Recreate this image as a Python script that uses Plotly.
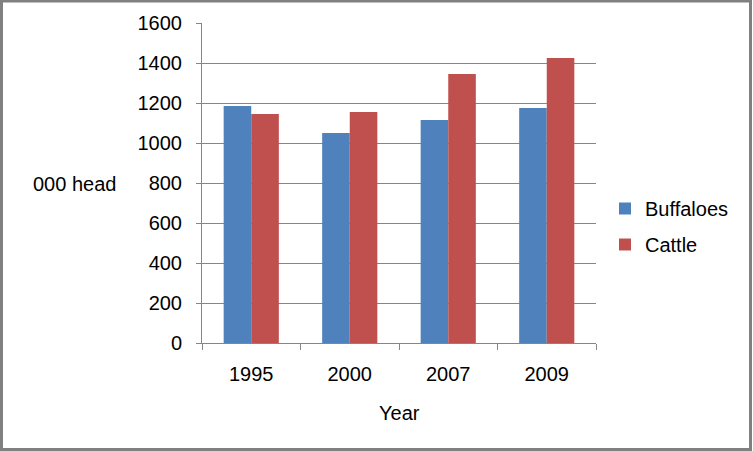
import plotly.graph_objects as go

years = ["1995", "2000", "2007", "2009"]
buffaloes = [1185, 1050, 1115, 1175]
cattle = [1145, 1155, 1345, 1425]
y_ticks = [0, 200, 400, 600, 800, 1000, 1200, 1400, 1600]

W, H = 753, 451
L, R, T, B = 202, 596, 23, 343
font = "Liberation Sans, Arial, sans-serif"

def px(x):
    return (x - L) / (R - L)

def py(y):
    return (B - y) / (B - T)

fig = go.Figure()
fig.add_trace(go.Bar(x=years, y=buffaloes, name="Buffaloes", marker_color="#4F81BD",
                     marker_line_width=0, legendgroup="a"))
fig.add_trace(go.Bar(x=years, y=cattle, name="Cattle", marker_color="#C0504D",
                     marker_line_width=0, legendgroup="b"))

fig.update_layout(
    width=W, height=H,
    margin=dict(l=L, r=W - R, t=T, b=H - B, pad=0),
    paper_bgcolor="white", plot_bgcolor="white",
    barmode="group", bargap=0.44, bargroupgap=0,
    font=dict(family=font, size=20, color="black"),
    showlegend=True,
    legend=dict(x=px(605), y=py(189), xanchor="left", yanchor="top",
                font=dict(size=20), tracegroupgap=7, traceorder="grouped",
                itemwidth=30, bgcolor="rgba(0,0,0,0)"),
    xaxis=dict(type="category", showgrid=False, showline=True, linecolor="#868686",
               linewidth=1, ticks="outside", tickson="boundaries", ticklen=6,
               tickcolor="#868686", tickfont=dict(size=20), ticklabelstandoff=13,
               fixedrange=True),
    yaxis=dict(range=[0, 1600], tickvals=y_ticks, showgrid=True, gridcolor="#868686",
               gridwidth=1, showline=True, linecolor="#868686", linewidth=1,
               ticks="outside", ticklen=5, tickcolor="#868686", tickfont=dict(size=20),
               ticklabelstandoff=10, zeroline=False, fixedrange=True),
)

fig.add_annotation(text="000 head", x=px(75), y=py(184), xref="paper", yref="paper",
                   xanchor="center", yanchor="middle",
                   showarrow=False, font=dict(size=20))
fig.add_annotation(text="Year", x=px(399.5), y=py(413), xref="paper", yref="paper",
                   xanchor="center", yanchor="middle",
                   showarrow=False, font=dict(size=20))

fig.add_shape(type="rect", xref="paper", yref="paper",
              x0=px(1.5), x1=px(750.5), y0=py(1), y1=py(449.5),
              line=dict(color="#808080", width=3), fillcolor="rgba(0,0,0,0)", layer="above")

fig.write_html("out.html", config={"displayModeBar": False},
               post_script="document.body.style.margin='0';")
